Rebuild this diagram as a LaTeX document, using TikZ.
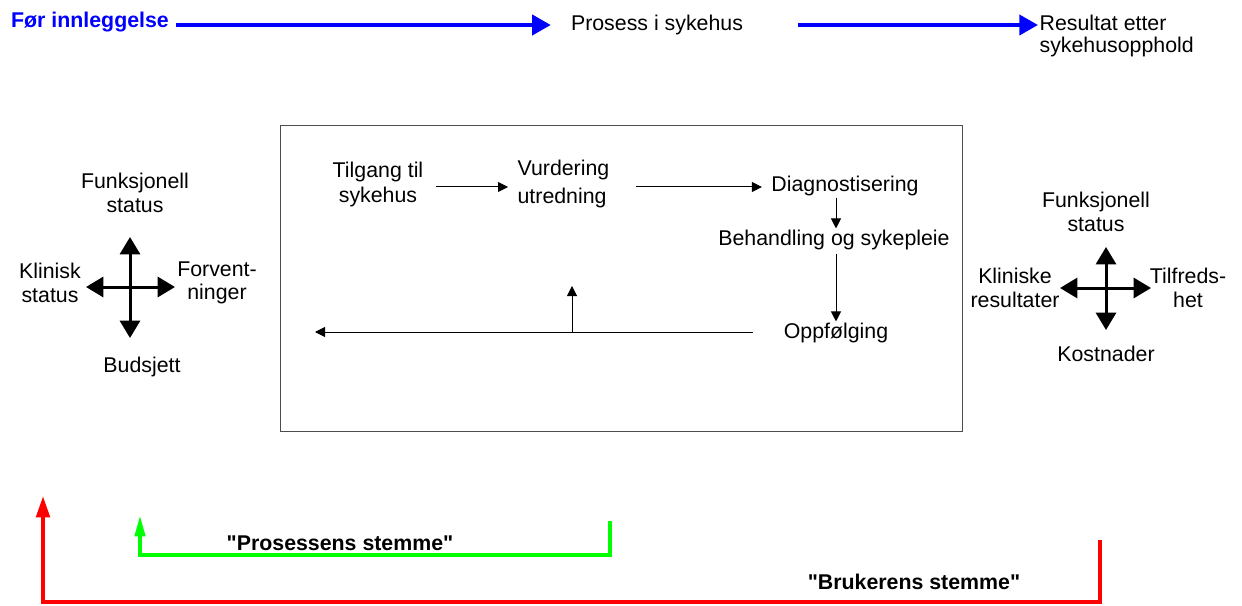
\documentclass[tikz,border=0pt]{standalone}
\usepackage{fontspec}
\setmainfont{Liberation Sans}
\usetikzlibrary{arrows.meta}

\begin{document}
\begin{tikzpicture}[x=0.75pt,y=-0.75pt,font=\fontsize{16}{17.5}\selectfont,
  every node/.style={align=center,inner sep=1pt},
  flow/.style={-{Triangle[length=7.5pt,width=7.5pt]},line width=0.75pt},
  cross/.style={{Triangle[length=13pt,width=15pt]}-{Triangle[length=13pt,width=15pt]},line width=2.25pt},
  stage/.style={-{Triangle[length=14pt,width=15pt]},line width=3pt,blue},
  voice/.style={-{Triangle[length=16pt,width=#1]},line width=3pt}]
\useasboundingbox (0,0) rectangle (1242,606);

% timeline at the top
\node (before) at (90,22) [font=\fontsize{16}{18}\selectfont\bfseries,text=blue] {Før innleggelse};
\node (process) at (657,25) {Prosess i sykehus};
\node (result) at (1038,36) [anchor=west,align=left,font=\fontsize{16}{16.5}\selectfont] {Resultat etter\\sykehusopphold};
\draw[stage,shorten <=4pt,shorten >=14pt] (before.east |- process.west) -- (process.west);
\draw[stage,shorten <=40pt] (process.east) -- (result.west |- process.east);

% the hospital
\node (hospital) at (621,278.5) [draw=black!70,line width=0.75pt,minimum width=511.5pt,minimum height=230pt,inner sep=0pt] {};
\node (access) at (378,184) [font=\fontsize{16}{18.75}\selectfont] {Tilgang til\\sykehus};
\node (assess) at (516,184) [anchor=west,align=left,font=\fontsize{16}{21}\selectfont] {Vurdering\\utredning};
\node (diag) at (845,186) {Diagnostisering};
\node (treat) at (834,240) {Behandling og sykepleie};
\node (follow) at (836,333) {Oppfølging};
\coordinate (back) at (315,332);
\coordinate (branch) at (572,332);
\coordinate (up) at (572,286);
\draw[flow,shorten <=8pt,shorten >=6pt] (access.east |- 0,187) -- (assess.west |- 0,187);
\draw[flow,shorten <=19pt,shorten >=6pt] (assess.east |- 0,187) -- (diag.west |- 0,187);
\draw[flow] (diag.south -| follow) -- (treat.north -| follow);
\draw[flow,shorten <=2pt] (treat.south -| follow) -- (follow.north);
\draw[flow,shorten <=22pt] (follow.west |- back) -- (back);
\draw[flow] (branch) -- (up);

% before: left cross
\coordinate (lc) at (130,287);
\node (lfunc) at (135,193) {Funksjonell\\status};
\node (lclin) at (50,283) {Klinisk\\status};
\node (lexp) at (217,283) {Forvent-\\ninger};
\node (lbud) at (142,367) {Budsjett};
\draw[cross] (lc |- 0,237) -- (lc |- 0,338);
\draw[cross] (lc -| 86,0) -- (lc -| 175,0);

% after: right cross
\coordinate (rc) at (1106,288);
\node (rfunc) at (1096,212) {Funksjonell\\status};
\node (rclin) at (1015,288) {Kliniske\\resultater};
\node (rsat) at (1188,288) {Tilfreds-\\het};
\node (rcost) at (1106,354) {Kostnader};
\draw[cross] (rc |- 0,247) -- (rc |- 0,330);
\draw[cross] (rc -| 1060,0) -- (rc -| 1151,0);

% feedback loops
\node (procvoice) at (340,543) [font=\fontsize{16}{18}\selectfont\bfseries] {\textquotedbl Prosessens stemme\textquotedbl};
\node (uservoice) at (914,582) [font=\fontsize{16}{18}\selectfont\bfseries] {\textquotedbl Brukerens stemme\textquotedbl};
\coordinate (g1) at (610,521);
\coordinate (g2) at (610,555);
\coordinate (g3) at (140,555);
\coordinate (g4) at (140,515);
\draw[voice=7.5pt,green] (g1) -- (g2) -- (g3) -- (g4);
\coordinate (r1) at (1100,540);
\coordinate (r2) at (1100,602);
\coordinate (r3) at (43,602);
\coordinate (r4) at (43,496);
\draw[voice=10pt,red] (r1) -- (r2) -- (r3) -- (r4);
\end{tikzpicture}
\end{document}
